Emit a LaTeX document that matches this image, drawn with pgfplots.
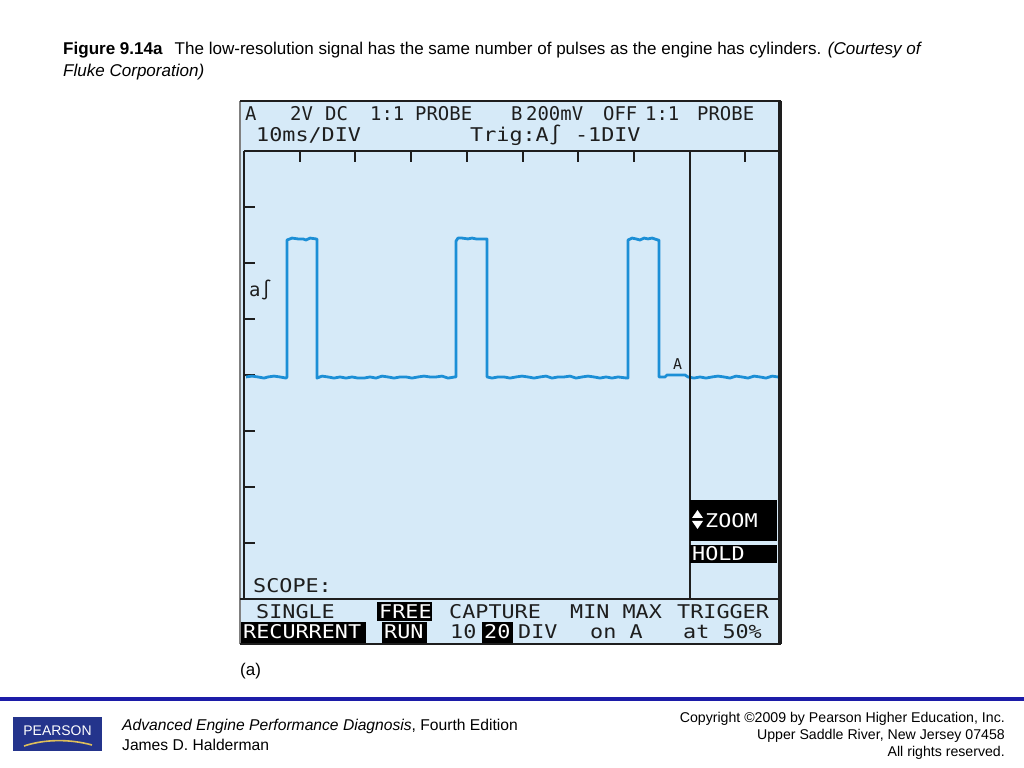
\documentclass[border=0pt]{standalone}
\usepackage{pgfplots}
\pgfplotsset{compat=1.18}
\usepackage{graphicx}
\usepackage{fontspec}
\setmainfont{Liberation Sans}
\newfontfamily\lcd{DejaVu Sans Mono}

\definecolor{screen}{RGB}{214,234,248}
\definecolor{trace}{RGB}{28,143,214}
\definecolor{ink}{RGB}{30,30,30}
\definecolor{pearsonblue}{RGB}{36,52,140}
\definecolor{rulecol}{RGB}{28,28,168}
\definecolor{gold}{RGB}{222,190,90}

% LCD text: narrow header row and the wider rows
\newcommand\lcdA[1]{{\lcd\fontsize{19}{19}\selectfont #1}}
\newcommand\lcdB[1]{\scalebox{1.15}[1]{\lcd\fontsize{19}{19}\selectfont #1}}

\begin{document}
\begin{tikzpicture}
% page and screen background (pixel coordinates, y downwards)
\begin{scope}[x=1bp,y=-1bp,yshift=768bp]
  \fill[white] (0,0) rectangle (1024,768);
  \fill[screen] (240,101) rectangle (782,644);
\end{scope}

\begin{axis}[
  at={(244bp,169bp)}, anchor=south west,
  scale only axis, width=534bp, height=448bp,
  xmin=0, xmax=95.85, ymin=-8, ymax=8,
  axis x line*=top, axis y line*=left,
  axis line style={-, line width=1.5bp, ink},
  xtick={10,20,...,90}, ytick={-6,-4,...,6},
  xticklabels={}, yticklabels={},
  tick align=inside, major tick length=11bp,
  tick style={line width=2bp, ink},
  clip=false,
]
% channel A, ms vs V (2 V/div, 10 ms/div)
\addplot[trace, line width=2.8bp, line join=round] coordinates {
  (0.36,-0.07) (1.44,-0.04) (2.51,-0.07) (3.59,-0.11) (4.31,-0.07)
  (5.39,-0.04) (6.46,-0.07) (7.54,-0.11) (7.72,-0.07)
  (7.72,4.82) (8.62,4.89) (9.69,4.86) (10.59,4.86) (11.13,4.82)
  (11.85,4.89) (12.92,4.86) (13.10,4.86)
  (13.10,-0.11) (14.00,-0.04) (15.08,-0.07) (16.16,-0.11) (17.23,-0.07)
  (18.31,-0.11) (19.39,-0.07) (20.46,-0.11) (21.54,-0.11) (22.62,-0.07)
  (23.69,-0.11) (24.77,-0.04) (25.85,-0.07) (26.93,-0.11) (28.00,-0.07)
  (29.08,-0.07) (30.16,-0.11) (31.23,-0.07) (32.31,-0.04) (33.39,-0.07)
  (34.46,-0.07) (35.54,-0.04) (36.62,-0.11) (37.87,-0.07) (38.05,-0.07)
  (38.05,4.78) (38.41,4.89) (39.13,4.89) (40.21,4.86) (40.93,4.89)
  (41.64,4.86) (42.36,4.86) (43.44,4.86) (43.62,4.86)
  (43.62,-0.07) (44.52,-0.11) (45.59,-0.07) (46.67,-0.07) (47.75,-0.11)
  (48.82,-0.07) (49.90,-0.04) (50.98,-0.07) (52.06,-0.11) (53.13,-0.07)
  (54.21,-0.04) (55.29,-0.11) (56.36,-0.07) (57.44,-0.07) (58.52,-0.04)
  (59.59,-0.11) (60.67,-0.07) (61.75,-0.04) (62.83,-0.07) (63.90,-0.11)
  (64.98,-0.07) (66.06,-0.11) (67.13,-0.07) (68.75,-0.11) (68.93,-0.11)
  (68.93,4.82) (69.65,4.89) (70.36,4.86) (71.08,4.82) (71.80,4.89)
  (72.52,4.86) (73.24,4.89) (74.31,4.82) (74.49,4.82)
  (74.49,-0.07) (75.57,-0.07) (75.93,0.00) (79.16,0.00) (79.70,-0.07)
  (80.78,-0.11) (81.85,-0.07) (82.93,-0.11) (84.01,-0.07) (85.08,-0.04)
  (86.16,-0.07) (87.24,-0.11) (88.31,-0.04) (89.39,-0.07) (90.47,-0.11)
  (91.54,-0.04) (92.62,-0.07) (93.70,-0.11) (94.78,-0.04) (95.85,-0.07)
};
\end{axis}

\begin{scope}[x=1bp,y=-1bp,yshift=768bp,
  every node/.style={inner sep=0pt, anchor=base west, text=ink}]
  % screen frame
  \draw[gray, line width=2bp] (240,101) -- (240,644);
  \draw[ink, line width=1.5bp] (240,101) -- (781,101);
  \draw[ink, line width=4bp] (780,101) -- (780,644);
  \draw[ink, line width=1.5bp] (240,644) -- (781,644);
  \draw[ink, line width=1.5bp] (244,151) -- (778,151);
  \draw[ink, line width=1.5bp] (240,599) -- (780,599);
  \draw[ink, line width=1.5bp] (690,151) -- (690,599);

  % header
  \node at (245,121) {\lcdA{A}};
  \node at (290,121) {\lcdA{2V}};
  \node at (325,121) {\lcdA{DC}};
  \node at (370,121) {\lcdA{1:1}};
  \node at (415,121) {\lcdA{PROBE}};
  \node at (511,121) {\lcdA{B}};
  \node at (526,121) {\lcdA{200mV}};
  \node at (603,121) {\lcdA{OFF}};
  \node at (645,121) {\lcdA{1:1}};
  \node at (697,121) {\lcdA{PROBE}};
  \node at (256,142) {\lcdB{10ms/DIV}};
  \node at (470,142) {\lcdB{Trig:A∫ -1DIV}};

  % marks in the trace area
  \node at (249,297) {\lcdA{a∫}};
  \node at (673,370) {\lcd\fontsize{15}{15}\selectfont A};
  \node at (253,593) {\lcdB{SCOPE:}};

  % right soft keys
  \fill[black] (690,500) rectangle (777,541);
  \fill[white] (692,518) -- (703,518) -- (697.5,510) -- cycle;
  \fill[white] (692,521) -- (703,521) -- (697.5,529) -- cycle;
  \node[text=white] at (705,528) {\lcdB{ZOOM}};
  \fill[black] (690,545) rectangle (777,563);
  \node[text=white] at (692,561) {\lcdB{HOLD}};

  % bottom menu
  \node at (256,619) {\lcdB{SINGLE}};
  \fill[black] (377,602) rectangle (432,621);
  \node[text=white] at (379,619) {\lcdB{FREE}};
  \node at (449,619) {\lcdB{CAPTURE}};
  \node at (570,619) {\lcdB{MIN MAX}};
  \node at (677,619) {\lcdB{TRIGGER}};
  \fill[black] (241,622) rectangle (366,643);
  \node[text=white] at (243,639) {\lcdB{RECURRENT}};
  \fill[black] (382,622) rectangle (427,643);
  \node[text=white] at (384,639) {\lcdB{RUN}};
  \node at (450,639) {\lcdB{10}};
  \fill[black] (482,622) rectangle (513,643);
  \node[text=white] at (484,639) {\lcdB{20}};
  \node at (518,639) {\lcdB{DIV}};
  \node at (590,639) {\lcdB{on A}};
  \node at (683,639) {\lcdB{at 50\%}};

  % caption
  \node[text=black] at (63,55) {\fontsize{17.1}{20}\selectfont
    \textbf{Figure 9.14a}\hspace{12bp}The low-resolution signal has the same number of pulses as the engine has cylinders. \textit{(Courtesy of}};
  \node[text=black] at (63,77) {\fontsize{17.1}{20}\selectfont\itshape Fluke Corporation)};
  \node[text=black] at (240,676) {\fontsize{17}{20}\selectfont (a)};

  % footer
  \fill[rulecol] (0,697) rectangle (1024,701);
  \fill[pearsonblue] (13,717) rectangle (102,751);
  \node[text=white, anchor=base] at (57.5,736) {\fontsize{14}{16}\selectfont PEARSON};
  \draw[gold, line width=1.6bp] (24,746) .. controls (45,739) and (70,739) .. (92,745);
  \node[text=black] at (122,731) {\fontsize{15.7}{18}\selectfont
    \textit{Advanced Engine Performance Diagnosis}, Fourth Edition};
  \node[text=black] at (122,751) {\fontsize{15.7}{18}\selectfont James D. Halderman};
  \node[text=black, anchor=base east] at (1005,723) {\fontsize{14.2}{17}\selectfont Copyright ©2009 by Pearson Higher Education, Inc.};
  \node[text=black, anchor=base east] at (1005,740) {\fontsize{14.2}{17}\selectfont Upper Saddle River, New Jersey 07458};
  \node[text=black, anchor=base east] at (1005,757) {\fontsize{14.2}{17}\selectfont All rights reserved.};
\end{scope}
\end{tikzpicture}
\end{document}
